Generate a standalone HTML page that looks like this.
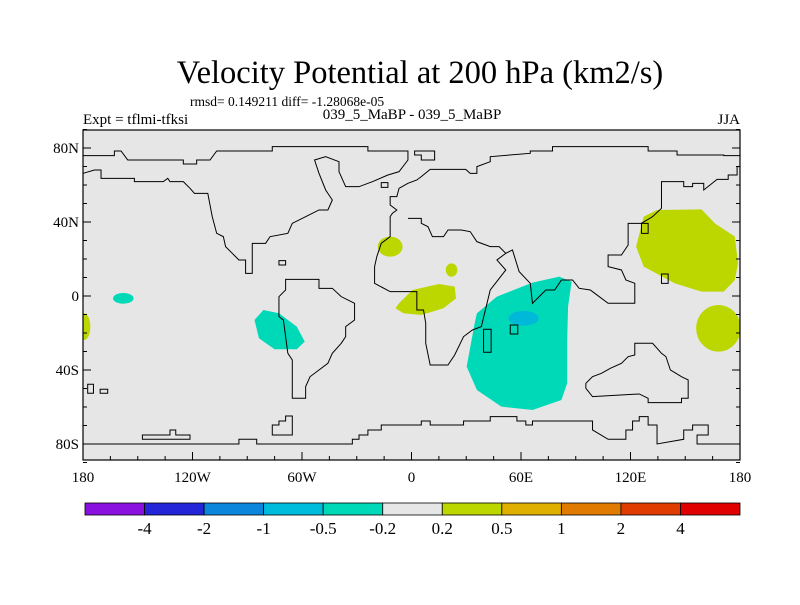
<!DOCTYPE html>
<html><head><meta charset="utf-8"><style>
body{margin:0;background:#fff;}
svg{font-family:"Liberation Serif",serif;}
</style></head><body>
<svg id="s" width="800" height="600" viewBox="0 0 800 600" xmlns="http://www.w3.org/2000/svg">
<text x="420" y="83" font-size="32.5" text-anchor="middle">Velocity Potential at 200 hPa (km2/s)</text>
<text x="190" y="106" font-size="13.5">rmsd= 0.149211 diff= -1.28068e-05</text>
<text x="83" y="124" font-size="15">Expt = tflmi-tfksi</text>
<text x="412" y="119" font-size="15" text-anchor="middle">039_5_MaBP - 039_5_MaBP</text>
<text x="740" y="124" font-size="15" text-anchor="end">JJA</text>
<rect x="83" y="130" width="657" height="330" fill="#e6e6e6"/>
<svg x="83" y="130" width="657" height="330" overflow="hidden">
<g transform="translate(-22,-40) scale(0.4448,0.3333)">
<g fill="#bcd600">
<path d="M1310,380 L1340,360 1440,358 1470,400 1515,440 1522,520 1515,570 1490,605 1440,605 1380,580 1310,530 1293,470 Z"/>
<ellipse cx="1478" cy="715" rx="50" ry="70"/>
<ellipse cx="52" cy="710" rx="14" ry="40"/>
<ellipse cx="740" cy="470" rx="28" ry="30"/>
<ellipse cx="878" cy="540" rx="13" ry="20"/>
<path d="M760,640 L790,600 850,582 885,590 888,625 860,655 810,675 770,670 752,655 Z"/>
</g>
<g fill="#00d9b8">
<ellipse cx="140" cy="625" rx="23" ry="16"/>
<path d="M435,690 L455,660 490,670 530,710 548,755 530,778 480,778 445,745 Z"/>
<path d="M935,670 L980,620 1060,578 1120,560 1148,575 1140,650 1138,750 1138,880 1125,930 1060,960 990,950 935,900 912,830 930,700 Z"/>
</g>
<ellipse cx="1040" cy="685" rx="34" ry="22" fill="#00b8d8"/>
<g fill="none" stroke="#000" stroke-width="1">
<polyline vector-effect="non-scaling-stroke" points="50,250 75,240 90,240 90,265 165,265 165,275 230,275 240,265 245,275 275,275 290,295 300,310 330,310 340,380 350,430 365,440 370,470 385,490 400,510 415,510 415,550 430,550 430,460 460,460 470,440 510,430 520,400 550,380 580,360 600,360 610,330 595,300 580,250 570,210 595,200 625,215 625,245 640,290 670,290 700,275 735,255 760,245 780,210 780,183 690,183 690,170 475,170 475,183 350,183 335,210 305,210 305,222 275,222 275,210 150,210 135,183 120,183 120,197 50,197"/>
<polygon vector-effect="non-scaling-stroke" points="505,568 580,568 580,595 610,595 630,620 660,640 660,690 640,710 640,740 630,760 610,790 600,820 580,840 560,860 550,890 550,925 520,925 520,810 510,790 505,740 500,690 490,680 490,620 505,600"/>
<polyline vector-effect="non-scaling-stroke" points="1527,197 1490,197 1490,195 1385,195 1385,183 1320,183 1320,170 1105,170 1105,183 1055,183 1055,190 965,200 965,215 935,230 935,250 920,250 910,238 830,238 810,260 800,270 780,280 760,295 755,320 740,320 740,345 755,360 745,370 740,380 740,440 720,460 710,500 705,530 705,580 740,605 800,605 800,660 815,660 820,700 820,760 830,825 870,825 885,795 905,740 925,720 945,710 965,600 1000,540 980,510 1000,490 1015,480 1030,545 1055,580 1060,640 1075,620 1090,600 1110,600 1125,570 1150,570 1165,595 1190,600 1200,610 1230,640 1290,640 1290,580 1270,570 1260,540 1230,530 1230,495 1260,495 1275,465 1275,400 1305,400 1330,380 1350,355 1350,275 1400,275 1400,290 1420,290 1420,280 1445,280 1445,300 1475,268 1500,268 1500,255 1520,255 1520,230 1527,230"/>
<polyline vector-effect="non-scaling-stroke" points="780,385 810,385 810,400 825,410 835,440 860,440 870,420 900,420 920,425 935,455 965,470 985,470 1000,490"/>
<polyline vector-effect="non-scaling-stroke" points="50,1062 400,1062 400,1048 440,1048 440,1062 655,1062 655,1048 670,1048 670,1035 690,1035 690,1020 720,1020 720,1005 810,1005 810,993 830,993 830,1005 905,1005 905,993 965,993 965,980 1025,980 1025,993 1045,993 1045,1005 1060,1005 1060,993 1195,993 1195,1020 1230,1048 1270,1048 1270,1020 1285,1020 1285,993 1300,993 1300,980 1320,980 1320,1005 1340,1005 1340,1062 1400,1048 1400,1020 1420,1020 1420,1005 1455,1005 1455,1035 1430,1035 1430,1062 1527,1062"/>
<polygon vector-effect="non-scaling-stroke" points="1180,880 1195,860 1215,850 1235,835 1260,820 1275,800 1290,795 1290,760 1330,760 1350,790 1360,800 1370,840 1395,860 1410,870 1410,925 1395,925 1395,938 1320,938 1320,925 1300,912 1195,920 1180,895"/>
<polygon vector-effect="non-scaling-stroke" points="183,1035 245,1035 245,1020 258,1020 258,1035 290,1035 290,1048 183,1048"/>
<polygon vector-effect="non-scaling-stroke" points="475,1035 475,1005 490,1005 490,993 505,993 505,978 520,978 520,1035"/>
<polygon vector-effect="non-scaling-stroke" points="795,183 840,183 840,210 810,210 810,195 795,195"/>
<rect vector-effect="non-scaling-stroke" x="60" y="883" width="13" height="27"/>
<rect vector-effect="non-scaling-stroke" x="88" y="898" width="17" height="12"/>
<rect vector-effect="non-scaling-stroke" x="1010" y="705" width="17" height="27"/>
<rect vector-effect="non-scaling-stroke" x="950" y="718" width="17" height="69"/>
<rect vector-effect="non-scaling-stroke" x="1350" y="552" width="15" height="28"/>
<rect vector-effect="non-scaling-stroke" x="1305" y="400" width="15" height="30"/>
<rect vector-effect="non-scaling-stroke" x="490" y="512" width="15" height="13"/>
<rect vector-effect="non-scaling-stroke" x="720" y="278" width="15" height="14"/>
</g>
</g>
</svg>
<rect x="83" y="130" width="657" height="330" fill="none" stroke="#000" stroke-width="1.2"/>
<g id="axes"></g>
<g id="cbar"></g>
</svg>
<script>
const lonTicks=[-180,-120,-60,0,60,120,180];
const lonLabels=["180","120W","60W","0","60E","120E","180"];
const latTicks=[80,40,0,-40,-80];
const latLabels=["80N","40N","0","40S","80S"];
const levels=["-4","-2","-1","-0.5","-0.2","0.2","0.5","1","2","4"];
const colors=["#8a10e0","#2424d8","#0a86dc","#00bcdc","#00d9b8","#e6e6e6","#bcd600","#e0b000","#e07a00","#e03c00","#e00000"];
const NS="http://www.w3.org/2000/svg";
const X=lon=>83+(lon+180)/360*657;
const Y=lat=>296-lat*1.85;
const ax=document.getElementById('axes'), cb=document.getElementById('cbar');
function mk(tag,attrs,parent){const e=document.createElementNS(NS,tag);for(const k in attrs)e.setAttribute(k,attrs[k]);parent.appendChild(e);return e;}
for(let lon=-180;lon<=180;lon+=15){const l=mk('line',{x1:X(lon),x2:X(lon),y1:460,y2:lon%60===0?452:456,stroke:'#000'},ax);

}
for(let lat=-90;lat<=90;lat+=10){const l=mk('line',{x1:83,x2:lat%40===0?91:87,y1:Y(lat),y2:Y(lat),stroke:'#000'},ax);


const r=mk('line',{x1:740,x2:lat%40===0?732:736,y1:Y(lat),y2:Y(lat),stroke:'#000'},ax);

}
lonTicks.forEach((v,i)=>{const t=mk('text',{x:X(v),y:482,'font-size':15,'text-anchor':'middle'},ax);t.textContent=lonLabels[i];

});
latTicks.forEach((v,i)=>{const t=mk('text',{x:79,y:Y(v)+5,'font-size':15,'text-anchor':'end'},ax);t.textContent=latLabels[i];

});
const bw=(740-85)/colors.length;
colors.forEach((c,i)=>{const r=mk('rect',{x:85+i*bw,y:503,width:bw,height:12,fill:c,stroke:'#000','stroke-width':0.8},cb);

});
levels.forEach((v,i)=>{const t=mk('text',{x:85+(i+1)*bw,y:534,'font-size':17,'text-anchor':'middle'},cb);t.textContent=v;

});
</script>
</body></html>
